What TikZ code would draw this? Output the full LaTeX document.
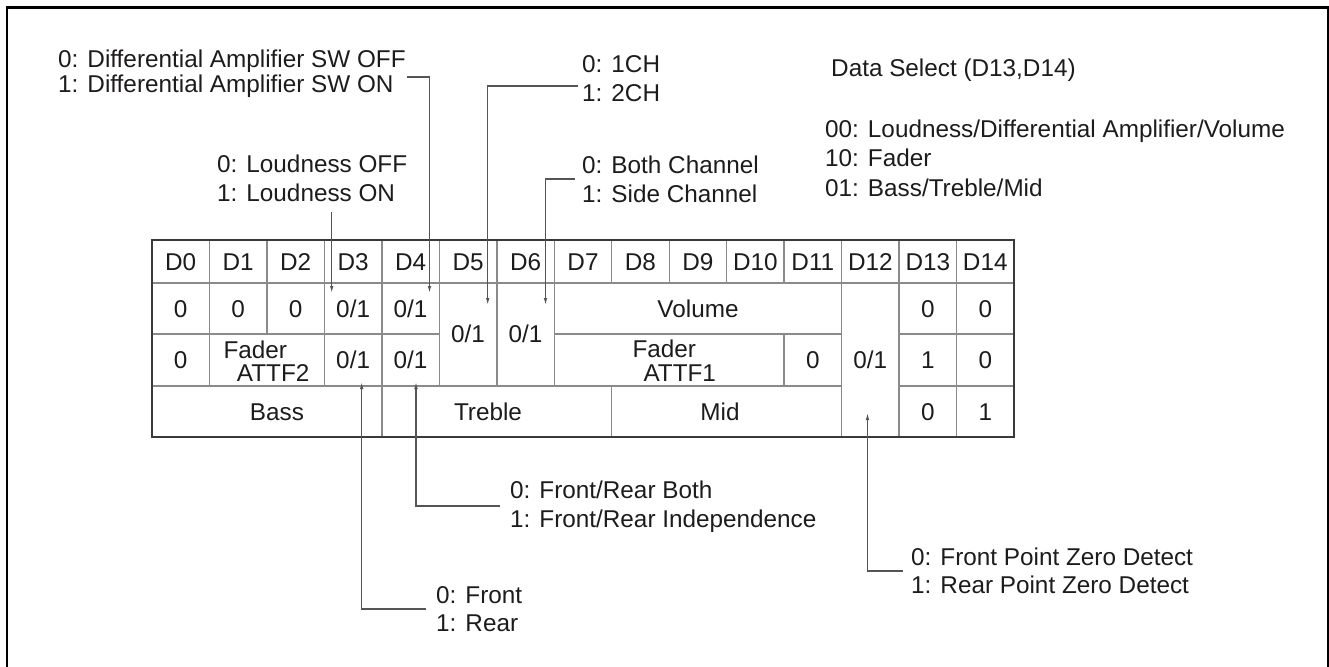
\documentclass[tikz,border=0pt]{standalone}
\usepackage{fontspec}
\setmainfont{Liberation Sans}
\usetikzlibrary{arrows.meta}
\definecolor{txt}{HTML}{1E1B1C}
\definecolor{gridc}{HTML}{8A8A8A}
\definecolor{edgec}{HTML}{3A3A3A}
\definecolor{connc}{HTML}{555555}
\tikzset{
  lbl/.style={anchor=base west, inner sep=0pt, text=txt},
  cell/.style={anchor=base, inner sep=0pt, text=txt},
  gridline/.style={draw=gridc, line width=1.4pt},
  tableedge/.style={draw=edgec, line width=2pt},
  connline/.style={draw=connc, line width=1.2pt},
  arr/.style={connline, -{Latex[length=7pt,width=3.6pt]}},
  framebox/.style={draw=black, line width=2.5pt}
}
\begin{document}
\begin{tikzpicture}[x=1pt, y=-1pt, font=\fontsize{24.3}{29}\selectfont]
\useasboundingbox (0,0) rectangle (1329,666);
% outer frame (bottom edge lies outside the picture)
\draw[framebox] (7,690) -- (7,7.5) -- (1328,7.5) -- (1328,690);

% ---------- table grid ----------
\draw[gridline] (152,283) -- (1014,283);
\draw[gridline] (152,334) -- (439.33,334) (554.27,334) -- (841.6,334) (899.07,334) -- (1014,334);
\draw[gridline] (152,386) -- (841.6,386) (899.07,386) -- (1014,386);
\draw[gridline] (209.47,240) -- (209.47,386);
\draw[gridline] (266.93,240) -- (266.93,334);
\draw[gridline] (324.4,240) -- (324.4,386);
\draw[gridline] (381.87,240) -- (381.87,437);
\draw[gridline] (439.33,240) -- (439.33,386);
\draw[gridline] (496.8,240) -- (496.8,386);
\draw[gridline] (554.27,240) -- (554.27,386);
\draw[gridline] (611.73,240) -- (611.73,283) (611.73,386) -- (611.73,437);
\draw[gridline] (669.2,240) -- (669.2,283);
\draw[gridline] (726.67,240) -- (726.67,283);
\draw[gridline] (784.13,240) -- (784.13,283) (784.13,334) -- (784.13,386);
\draw[gridline] (841.6,240) -- (841.6,437);
\draw[gridline] (899.07,240) -- (899.07,437);
\draw[gridline] (956.53,240) -- (956.53,437);
\draw[tableedge] (152,240) rectangle (1014,437);

% ---------- header ----------
\foreach \i in {0,...,14}
  \node[cell] (h\i) at ({180.73+\i*57.4667},270) {D\i};

% ---------- row 1 ----------
\node[cell] (a0) at (180.73,317) {0};
\node[cell] (a1) at (238.2,317) {0};
\node[cell] (a2) at (295.67,317) {0};
\node[cell] (a3) at (353.13,317) {0/1};
\node[cell] (a4) at (410.6,317) {0/1};
\node[cell] (vol) at (698,317) {Volume};
\node[cell] (a13) at (927.8,317) {0};
\node[cell] (a14) at (985.27,317) {0};
% merged D5, D6
\node[cell] (m5) at (468.07,342.6) {0/1};
\node[cell] (m6) at (525.53,342.6) {0/1};

% ---------- row 2 ----------
\node[cell] (b0) at (180.73,368.6) {0};
\node[lbl] (fad2) at (223.3,358) {Fader};
\node[lbl] (att2) at (236.7,381) {ATTF2};
\node[cell] (b3) at (353.13,368.6) {0/1};
\node[cell] (b4) at (410.6,368.6) {0/1};
\node[lbl] (fad1) at (632.3,357.5) {Fader};
\node[lbl] (att1) at (643.3,381.5) {ATTF1};
\node[cell] (b11) at (812.87,368.6) {0};
\node[cell] (b12) at (870.33,368.6) {0/1};
\node[cell] (b13) at (927.8,368.6) {1};
\node[cell] (b14) at (985.27,368.6) {0};

% ---------- row 3 ----------
\node[cell] (bass) at (277,420) {Bass};
\node[cell] (treb) at (488,420) {Treble};
\node[cell] (mid) at (720,420) {Mid};
\node[cell] (c13) at (927.8,420) {0};
\node[cell] (c14) at (985.27,420) {1};

% ---------- labels ----------
\node[lbl] (diffA) at (58,68) {0: Differential Amplifier SW OFF};
\node[lbl] (diffB) at (58,93) {1: Differential Amplifier SW ON};
\node[lbl] (loudA) at (217,172) {0: Loudness OFF};
\node[lbl] (loudB) at (217,201) {1: Loudness ON};
\node[lbl] (chA) at (582,73) {0: 1CH};
\node[lbl] (chB) at (582,102) {1: 2CH};
\node[lbl] (sideA) at (582,173) {0: Both Channel};
\node[lbl] (sideB) at (582,202) {1: Side Channel};
\node[lbl] (dsel) at (831,77) {Data Select (D13,D14)};
\node[lbl] (ds00) at (825,137.5) {00: Loudness/Differential Amplifier/Volume};
\node[lbl] (ds10) at (825,166.5) {10: Fader};
\node[lbl] (ds01) at (825,196.5) {01: Bass/Treble/Mid};
\node[lbl] (frbA) at (510,498.6) {0: Front/Rear Both};
\node[lbl] (frbB) at (510,527.6) {1: Front/Rear Independence};
\node[lbl] (frA) at (436,603.6) {0: Front};
\node[lbl] (frB) at (436,631.6) {1: Rear};
\node[lbl] (zA) at (911,565) {0: Front Point Zero Detect};
\node[lbl] (zB) at (911,593.6) {1: Rear Point Zero Detect};

% ---------- connector points ----------
\coordinate (sDiff) at (407,77);
\coordinate (tD4) at (429.5,293);
\coordinate (sLoud) at (331.7,212);
\coordinate (tD3) at (331.7,293);
\coordinate (sCh) at (578,86);
\coordinate (tD5) at (487.7,305);
\coordinate (sSide) at (575,179);
\coordinate (tD6) at (545.5,305);
\coordinate (sFrb) at (500,506);
\coordinate (uD4) at (416,382);
\coordinate (sFr) at (425.5,609);
\coordinate (uD3) at (361.7,382);
\coordinate (sZ) at (903,571);
\coordinate (uD12) at (867.5,413);

\draw[arr] (sDiff) -| (tD4);
\draw[arr] (sLoud) -- (tD3);
\draw[arr] (sCh) -| (tD5);
\draw[arr] (sSide) -| (tD6);
\draw[arr] (sFrb) -| (uD4);
\draw[arr] (sFr) -| (uD3);
\draw[arr] (sZ) -| (uD12);
\end{tikzpicture}
\end{document}
